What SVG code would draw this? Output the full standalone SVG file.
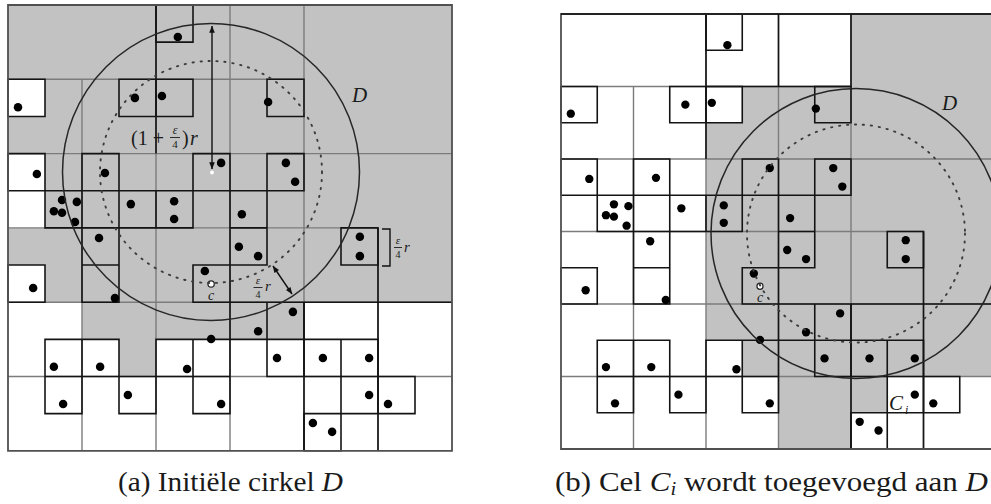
<svg xmlns="http://www.w3.org/2000/svg" width="991" height="504" viewBox="0 0 991 504">
<defs>
<style>
.gl{stroke:#7c7c7c;stroke-width:1.4;fill:none;vector-effect:non-scaling-stroke}
.bx{stroke:#141414;stroke-width:1.6;fill:none;vector-effect:non-scaling-stroke}
.bd{stroke:#505050;stroke-width:1.8;fill:none;vector-effect:non-scaling-stroke}
.pt{fill:#000}
.cw{fill:#fff;stroke:#222;stroke-width:1.2;vector-effect:non-scaling-stroke}
.outer{fill:none;stroke:#262626;stroke-width:1.5}
.inner{fill:none;stroke:#3c3c3c;stroke-width:1.9;stroke-dasharray:1.3 6.7;stroke-linecap:round}
.t{font-family:"Liberation Serif","DejaVu Serif",serif;fill:#1a1a1a}
.i{font-style:italic}
.ar{stroke:#111;stroke-width:1.4;fill:none}
.gray{fill:#c2c2c2}
</style>
<marker id="ah" viewBox="0 0 10 10" refX="9.5" refY="5" markerWidth="8" markerHeight="7" orient="auto-start-reverse" markerUnits="userSpaceOnUse">
<path d="M0,1 L10,5 L0,9 z" fill="#111"/>
</marker>
<g id="base">
<path class="gl" d="M0,2H8M0,4H12M0,6H10M0,8H12M0,10H12M2,2V12M4,0V12M6,0V12M8,0V12M10,6V12"/>
<path class="bx" d="M4,0V4M8,8V12M10,6V12M8,8H12"/>
<path class="bx" d="M4,0h1v1h-1zM0,2h1v1h-1zM3,2h1v1h-1zM4,2h1v1h-1zM7,2h1v1h-1zM0,4h1v1h-1zM2,4h1v1h-1zM5,4h1v1h-1zM7,4h1v1h-1zM1,5h1v1h-1zM3,5h1v1h-1zM4,5h1v1h-1zM6,5h1v1h-1zM2,6h1v1h-1zM6,6h1v1h-1zM9,6h1v1h-1zM0,7h1v1h-1zM2,7h1v1h-1zM5,7h1v1h-1zM6,8h1v1h-1zM7,8h1v1h-1zM1,9h1v1h-1zM2,9h1v1h-1zM4,9h1v1h-1zM5,9h1v1h-1zM7,9h1v1h-1zM8,9h1v1h-1zM9,9h1v1h-1zM1,10h1v1h-1zM3,10h1v1h-1zM5,10h1v1h-1zM9,10h1v1h-1zM10,10h1v1h-1zM8,11h1v1h-1z"/>
<rect class="bd" x="0" y="0" width="12" height="12"/>
<g class="pt">
<circle cx="4.59" cy="0.86" r="0.115"/>
<circle cx="0.27" cy="2.75" r="0.115"/>
<circle cx="3.43" cy="2.50" r="0.115"/>
<circle cx="4.16" cy="2.45" r="0.115"/>
<circle cx="7.03" cy="2.61" r="0.115"/>
<circle cx="0.78" cy="4.55" r="0.115"/>
<circle cx="2.62" cy="4.52" r="0.115"/>
<circle cx="5.76" cy="4.25" r="0.115"/>
<circle cx="7.51" cy="4.25" r="0.115"/>
<circle cx="7.76" cy="4.76" r="0.115"/>
<circle cx="1.46" cy="5.25" r="0.115"/>
<circle cx="1.24" cy="5.55" r="0.115"/>
<circle cx="1.46" cy="5.59" r="0.115"/>
<circle cx="1.86" cy="5.30" r="0.115"/>
<circle cx="1.81" cy="5.84" r="0.115"/>
<circle cx="3.32" cy="5.36" r="0.115"/>
<circle cx="4.49" cy="5.28" r="0.115"/>
<circle cx="4.49" cy="5.76" r="0.115"/>
<circle cx="6.32" cy="5.63" r="0.115"/>
<circle cx="2.46" cy="6.27" r="0.115"/>
<circle cx="6.24" cy="6.51" r="0.115"/>
<circle cx="6.76" cy="6.76" r="0.115"/>
<circle cx="9.51" cy="6.24" r="0.115"/>
<circle cx="9.51" cy="6.76" r="0.115"/>
<circle cx="0.68" cy="7.62" r="0.115"/>
<circle cx="2.89" cy="7.89" r="0.115"/>
<circle cx="5.32" cy="7.16" r="0.115"/>
<circle cx="6.76" cy="8.78" r="0.115"/>
<circle cx="7.70" cy="8.26" r="0.115"/>
<circle cx="2.49" cy="9.74" r="0.115"/>
<circle cx="1.24" cy="9.74" r="0.115"/>
<circle cx="1.49" cy="10.74" r="0.115"/>
<circle cx="3.24" cy="10.50" r="0.115"/>
<circle cx="4.84" cy="9.80" r="0.115"/>
<circle cx="5.49" cy="8.99" r="0.115"/>
<circle cx="5.76" cy="10.74" r="0.115"/>
<circle cx="7.27" cy="9.50" r="0.115"/>
<circle cx="8.51" cy="9.50" r="0.115"/>
<circle cx="9.76" cy="9.50" r="0.115"/>
<circle cx="9.76" cy="10.50" r="0.115"/>
<circle cx="10.27" cy="10.74" r="0.115"/>
<circle cx="8.24" cy="11.25" r="0.115"/>
<circle cx="8.76" cy="11.49" r="0.115"/>
</g>
<circle class="cw" cx="5.49" cy="7.51" r="0.085"/>
</g>
</defs>
<rect x="0" y="0" width="991" height="504" fill="#fff"/>

<g id="panel-a">
<g transform="matrix(37,0,0,37.15,8,5)">
<path class="gray" d="M0,0H12V8H8V9H4V10H3V9H2V8H0Z"/>
<path fill="#fff" d="M0,2h1v1h-1zM0,4h1v2h-1zM0,7h1v1h-1z"/>
</g>
<use href="#base" transform="matrix(37,0,0,37.15,8,5)"/>
<circle class="inner" cx="211" cy="172" r="111"/>
<circle class="outer" cx="211" cy="172" r="148.5"/>
<circle cx="212" cy="172.5" r="1.9" fill="#fff"/>
<g id="connectors">
<line class="ar" x1="212" y1="26" x2="212" y2="169" marker-start="url(#ah)" marker-end="url(#ah)"/>
<line class="ar" x1="273" y1="266" x2="292" y2="294" marker-start="url(#ah)" marker-end="url(#ah)"/>
<path class="ar" d="M382,229H390V266H382"/>
</g>
<g id="labels-a">
<text class="t" x="131" y="145" font-size="20">(1 +</text>
<text class="t i" x="175" y="134" font-size="12" text-anchor="middle">ε</text>
<line x1="170" y1="137.5" x2="180" y2="137.5" stroke="#1a1a1a" stroke-width="0.9"/>
<text class="t" x="175" y="148" font-size="11" text-anchor="middle">4</text>
<text class="t" x="182" y="145" font-size="20">)</text>
<text class="t i" x="190" y="145" font-size="20">r</text>
<text class="t i" x="352" y="102" font-size="21">D</text>
<text class="t i" x="398" y="244" font-size="11" text-anchor="middle">ε</text>
<line x1="394" y1="247.5" x2="402" y2="247.5" stroke="#1a1a1a" stroke-width="0.9"/>
<text class="t" x="398" y="257.5" font-size="10" text-anchor="middle">4</text>
<text class="t i" x="404" y="252" font-size="15">r</text>
<text class="t i" x="258" y="284" font-size="11" text-anchor="middle">ε</text>
<line x1="253.5" y1="287.5" x2="262.5" y2="287.5" stroke="#1a1a1a" stroke-width="0.9"/>
<text class="t" x="258" y="298" font-size="10" text-anchor="middle">4</text>
<text class="t i" x="265" y="291" font-size="15">r</text>
<text class="t i" x="211" y="300" font-size="14" text-anchor="middle">c</text>
</g>
</g>

<g id="panel-b">
<g transform="matrix(36.25,0,0,36.25,561,14)">
<path class="gray" d="M8,0H12.5V10H9V11H8V12H6V10H5V9H4V3H5V2H8Z"/>
</g>
<use href="#base" transform="matrix(36.25,0,0,36.25,561,14)"/>
<path class="bx" transform="matrix(36.25,0,0,36.25,561,14)" d="M4,2H8M6,0V2M8,0V2M0,0H12.5"/>
<circle class="inner" cx="856" cy="233.5" r="109"/>
<circle class="outer" cx="856" cy="233.5" r="145"/>
<g id="labels-b">
<text class="t i" x="942" y="110" font-size="21">D</text>
<text class="t i" x="760" y="302" font-size="14" text-anchor="middle">c</text>
<text class="t i" x="889" y="410" font-size="21">C</text>
<text class="t i" x="905" y="414" font-size="12">i</text>
</g>
</g>

<g id="captions">
<text class="t" x="118" y="491" font-size="27" textLength="225" lengthAdjust="spacingAndGlyphs">(a) Initiële cirkel <tspan class="i">D</tspan></text>
<text class="t" x="555" y="491" font-size="27" textLength="433" lengthAdjust="spacingAndGlyphs">(b) Cel <tspan class="i">C</tspan><tspan class="i" font-size="18" dy="4">i</tspan><tspan dy="-4"> wordt toegevoegd aan </tspan><tspan class="i">D</tspan></text>
</g>
</svg>
